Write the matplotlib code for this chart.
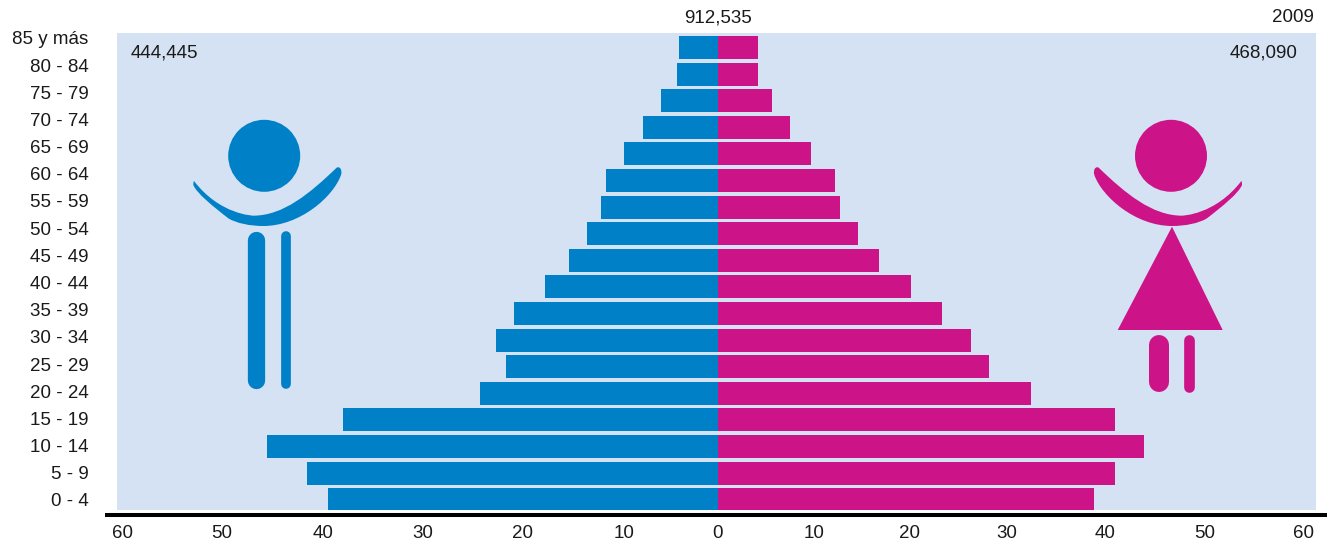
#!/usr/bin/env python3
# -*- coding: utf-8 -*-
import matplotlib
matplotlib.use('Agg')
import matplotlib.pyplot as plt
from matplotlib.patches import Circle, PathPatch, Polygon
from matplotlib.path import Path
from matplotlib.transforms import ScaledTranslation

# data, bottom row first
age_groups = ['0 - 4', '5 - 9', '10 - 14', '15 - 19', '20 - 24', '25 - 29', '30 - 34', '35 - 39', '40 - 44',
              '45 - 49', '50 - 54', '55 - 59', '60 - 64', '65 - 69', '70 - 74', '75 - 79', '80 - 84', '85 y más']
men = [39.3, 41.4, 45.5, 37.8, 24.0, 21.4, 22.4, 20.6, 17.5, 15.1, 13.2, 11.8, 11.3, 9.5, 7.6, 5.8, 4.2, 4.0]
women = [38.4, 40.6, 43.6, 40.6, 32.0, 27.7, 25.8, 22.9, 19.7, 16.4, 14.3, 12.4, 11.9, 9.5, 7.3, 5.5, 4.0, 4.0]
left_ticks = [60, 50, 40, 30, 20, 10, 0]
right_ticks = [10, 20, 30, 40, 50, 60]
total_label = '912,535'
year_label = '2009'
men_label = '444,445'
women_label = '468,090'

# the printed tick labels sit a few pixels off the bar scale
left_nudge = [0, 0, 2, 2, 3, 5, -0.5]
right_nudge = [-2, -4, -5, -4, -2, -1]

W, H = 1330, 541
BLUE = '#0080C6'
PINK = '#CC1488'
BACK = '#D5E2F3'
TEXT = '#1a1a1a'

plt.rcParams['font.family'] = ['Liberation Sans', 'DejaVu Sans']
plt.rcParams['font.size'] = 13.5
plt.rcParams['text.color'] = TEXT
plt.rcParams['xtick.labelcolor'] = TEXT
plt.rcParams['ytick.labelcolor'] = TEXT


def px_axes(fig, x0, x1, y0, y1):
    # axes from pixel box, y measured from the top of the picture
    return fig.add_axes([x0 / W, 1 - y1 / H, (x1 - x0) / W, (y1 - y0) / H])


fig = plt.figure(figsize=(W / 100, H / 100), dpi=100)

# background panel carries the age labels, their spacing differs a bit from the bars
back = px_axes(fig, 117, 1316, 33, 510)
back.set_facecolor(BACK)
back.set_xlim(0, 1)
back.set_ylim(-0.368, 17.18)
back.set_xticks([])
back.set_yticks(range(len(age_groups)))
back.set_yticklabels(age_groups)
back.tick_params(axis='y', length=0, pad=20.5)
for s in back.spines.values():
    s.set_visible(False)

center = 718.5
ax_l = px_axes(fig, 117, center, 33, 510)
ax_r = px_axes(fig, center, 1316, 33, 510)
rows = list(range(len(age_groups)))
ax_l.barh(rows, men, height=0.865, color=BLUE)
ax_r.barh(rows, women, height=0.865, color=PINK)
ax_l.set_xlim(60.57, 0)
ax_r.set_xlim(0, 61.16)
ax_l.set_xticks(left_ticks)
ax_r.set_xticks(right_ticks)
for ax in (ax_l, ax_r):
    ax.set_ylim(-0.387, 17.545)
    ax.patch.set_visible(False)
    ax.set_yticks([])
    ax.tick_params(axis='x', length=0, pad=11)
    for s in ax.spines.values():
        s.set_visible(False)

for ax, nudges in ((ax_l, left_nudge), (ax_r, right_nudge)):
    for label, dx in zip(ax.get_xticklabels(), nudges):
        label.set_transform(label.get_transform() + ScaledTranslation(dx / 100, 0, fig.dpi_scale_trans))

# overlay in picture pixels for icons, axis bar and free text
over = fig.add_axes([0, 0, 1, 1], zorder=5)
over.set_xlim(0, W)
over.set_ylim(H, 0)
over.axis('off')
over.plot([105, 1327], [515, 515], color='black', lw=2.9, solid_capstyle='butt')

over.text(718, 18, total_label, ha='center', va='center')
over.text(1314, 18, year_label, ha='right', va='center')
over.text(131, 53, men_label, ha='left', va='center')
over.text(1297, 53, women_label, ha='right', va='center')

arm_pts = [(72, 243), (150, 345), (250, 347), (250, 347),
           (340, 347), (420, 280), (500, 203),
           (508, 198), (518, 208), (513, 225),
           (490, 290), (390, 378), (280, 378),
           (240, 378), (200, 370), (175, 355),
           (130, 320), (80, 280), (70, 255),
           (70, 250), (70, 245), (72, 243)]
arm_codes = [Path.MOVETO] + [Path.CURVE4] * (len(arm_pts) - 1)


def leg(x, y0, y1, width, color):
    over.plot([x, x], [y0, y1], color=color, lw=width * 0.72, solid_capstyle='round')


# man
over.add_patch(Circle((264.2, 155.8), 36, color=BLUE, lw=0))
over.add_patch(PathPatch(Path([(170 + x / 3, 100 + y / 3) for x, y in arm_pts], arm_codes), color=BLUE, lw=0))
leg(255.7, 239.5, 380, 17.3, BLUE)
leg(286.2, 235.5, 384, 9.7, BLUE)

# woman, same arm mirrored
over.add_patch(Circle((1171, 155.8), 36, color=PINK, lw=0))
over.add_patch(PathPatch(Path([(1080 + (556 - x) / 3, 100 + y / 3) for x, y in arm_pts], arm_codes), color=PINK, lw=0))
over.add_patch(Polygon([(1172, 226.7), (1117.7, 330), (1222.7, 330)], closed=True, color=PINK, lw=0))
leg(1159, 344.5, 382, 20, PINK)
leg(1189.3, 339.5, 387, 10.7, PINK)

plt.savefig('out.png', dpi=100)
